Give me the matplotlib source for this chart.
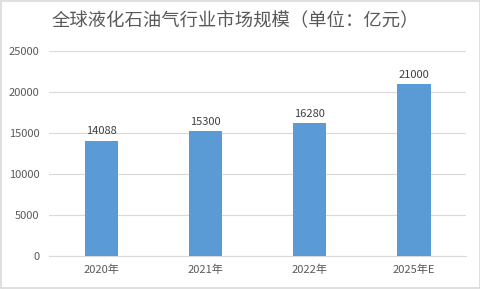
import matplotlib
matplotlib.use("Agg")
import matplotlib.pyplot as plt
from matplotlib.patches import Rectangle

plt.rcParams['font.family'] = ['Noto Sans CJK SC', 'DejaVu Sans']

# data
categories = ["2020年", "2021年", "2022年", "2025年E"]
values = [14088, 15300, 16280, 21000]
yticks = [0, 5000, 10000, 15000, 20000, 25000]

text_color = "#595959"
bar_color = "#5B9BD5"
grid_color = "#D9D9D9"

fig = plt.figure(figsize=(4.81, 2.89), dpi=100)
ax = fig.add_axes([0.102, 0.114, 0.867, 0.709])

x = range(len(categories))
bars = ax.bar(x, values, width=0.32, color=bar_color, zorder=3)

# value labels
for xi, v in zip(x, values):
    ax.text(xi, v + 500, str(v), ha="center", va="bottom", fontsize=8, color="#404040")

ax.set_xlim(-0.5, len(categories) - 0.5)
ax.set_ylim(0, 25000)
ax.set_yticks(yticks)
ax.set_yticklabels([str(t) for t in yticks])
ax.set_xticks(list(x))
ax.set_xticklabels(categories)
ax.tick_params(axis="both", length=0, labelsize=8, colors=text_color)
ax.tick_params(axis="y", pad=7)
ax.tick_params(axis="x", pad=6)

ax.grid(axis="y", color=grid_color, linewidth=0.8, zorder=0)
for s in ["top", "right", "left"]:
    ax.spines[s].set_visible(False)
ax.spines["bottom"].set_color(grid_color)
ax.spines["bottom"].set_linewidth(0.8)

fig.text(0.4886, 0.925, "全球液化石油气行业市场规模（单位：亿元）", ha="center", va="center",
         fontsize=13.2, color=text_color)

# outer frame
fig.patches.append(Rectangle((0.002, 0.003), 0.995, 0.994, transform=fig.transFigure,
                             fill=False, edgecolor="#D9D9D9", linewidth=1.2))

fig.savefig("out.png", dpi=100)
